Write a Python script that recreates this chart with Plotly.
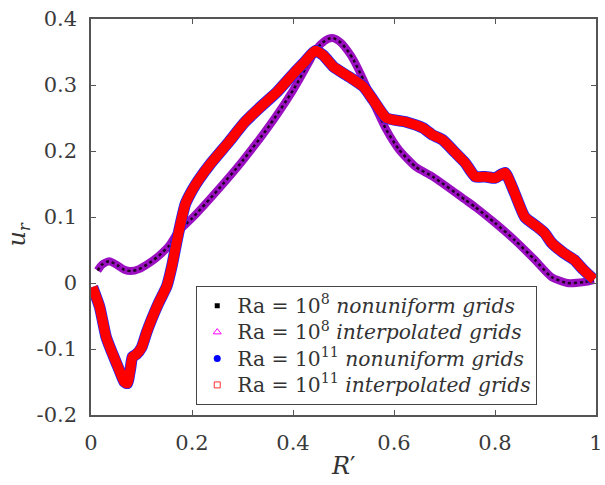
import plotly.graph_objects as go

# Radial velocity profile u_r along R' for two Rayleigh numbers
r_1e8 = [0.013, 0.022, 0.036, 0.052, 0.066, 0.079, 0.095, 0.115, 0.134, 0.154,
         0.173, 0.200, 0.250, 0.300, 0.350, 0.400, 0.432, 0.440, 0.455, 0.470,
         0.480, 0.495, 0.510, 0.520, 0.540, 0.560, 0.585, 0.610, 0.643, 0.677,
         0.741, 0.761, 0.800, 0.839, 0.879, 0.912, 0.943, 0.977, 0.996]
u_1e8 = [0.019, 0.028, 0.033, 0.027, 0.020, 0.018, 0.021, 0.030, 0.041, 0.056,
         0.078, 0.098, 0.140, 0.185, 0.235, 0.292, 0.335, 0.347, 0.362, 0.370,
         0.371, 0.364, 0.350, 0.338, 0.307, 0.272, 0.232, 0.202, 0.176, 0.161,
         0.126, 0.115, 0.091, 0.065, 0.035, 0.009, 0.000, 0.0015, 0.0045]

r_1e11 = [0.003, 0.017, 0.030, 0.042, 0.056, 0.066, 0.072, 0.078, 0.082, 0.090,
          0.100, 0.110, 0.120, 0.134, 0.150, 0.160, 0.173, 0.187, 0.200, 0.213,
          0.238, 0.271, 0.305, 0.336, 0.369, 0.402, 0.422, 0.444, 0.460, 0.481,
          0.512, 0.540, 0.559, 0.585, 0.624, 0.657, 0.677, 0.696, 0.722, 0.741,
          0.761, 0.781, 0.800, 0.820, 0.839, 0.859, 0.884, 0.898, 0.912, 0.937,
          0.957, 0.975, 0.996]
u_1e11 = [-0.006, -0.036, -0.082, -0.106, -0.132, -0.150, -0.152, -0.130, -0.112, -0.108,
          -0.098, -0.075, -0.055, -0.030, -0.005, 0.025, 0.075, 0.120, 0.140, 0.156,
          0.182, 0.212, 0.244, 0.267, 0.290, 0.318, 0.334, 0.352, 0.345, 0.327,
          0.312, 0.297, 0.277, 0.250, 0.244, 0.235, 0.224, 0.217, 0.197, 0.182,
          0.161, 0.161, 0.159, 0.167, 0.136, 0.100, 0.085, 0.076, 0.061, 0.045,
          0.035, 0.020, 0.005]

x_ticks = [0, 0.2, 0.4, 0.6, 0.8, 1]
x_labels = ["0", "0.2", "0.4", "0.6", "0.8", "1"]
y_ticks = [-0.2, -0.1, 0, 0.1, 0.2, 0.3, 0.4]
y_labels = ["-0.2", "-0.1", "0", "0.1", "0.2", "0.3", "0.4"]

legend_names = [
    "Ra = 10<sup>8</sup> <i>nonuniform grids</i>",
    "Ra = 10<sup>8</sup> <i>interpolated grids</i>",
    "Ra = 10<sup>11</sup> <i>nonuniform grids</i>",
    "Ra = 10<sup>11</sup> <i>interpolated grids</i>",
]

SERIF = "DejaVu Serif"
AXIS_COLOR = "#555555"

fig = go.Figure()

# Ra = 1e8: nonuniform (black) under interpolated (magenta)
fig.add_trace(go.Scatter(x=r_1e8, y=u_1e8, mode="lines",
                         line=dict(color="#9a10c0", width=8, shape="spline", smoothing=0.6),
                         showlegend=False, hoverinfo="skip"))
fig.add_trace(go.Scatter(x=r_1e8, y=u_1e8, mode="lines",
                         line=dict(color="#200020", width=2.5, dash="dot", shape="spline", smoothing=0.6),
                         showlegend=False, hoverinfo="skip"))

# Ra = 1e11: nonuniform (blue) under interpolated (red)
fig.add_trace(go.Scatter(x=r_1e11, y=u_1e11, mode="lines",
                         line=dict(color="#2020ff", width=11.5, shape="spline", smoothing=0.5),
                         showlegend=False, hoverinfo="skip"))
fig.add_trace(go.Scatter(x=r_1e11, y=u_1e11, mode="lines",
                         line=dict(color="#ff0000", width=10, shape="spline", smoothing=0.5),
                         showlegend=False, hoverinfo="skip"))

# Legend entries
legend_markers = [
    dict(symbol="square", size=5, color="black"),
    dict(symbol="triangle-up-open", size=7, color="#ff00ff", line=dict(width=1)),
    dict(symbol="circle", size=7, color="#0000ff"),
    dict(symbol="square-open", size=6, color="#ff3030", line=dict(width=1)),
]
for name, mk in zip(legend_names, legend_markers):
    fig.add_trace(go.Scatter(x=[None], y=[None], mode="markers", marker=mk,
                             name='<span style="font-size:20.3px">' + name + "</span>"))

axis_common = dict(
    showgrid=False, zeroline=False, showline=True, mirror="ticks",
    linecolor=AXIS_COLOR, linewidth=1.5, ticks="inside", ticklen=5,
    tickcolor=AXIS_COLOR, tickwidth=1, ticklabeloverflow="allow",
    tickfont=dict(family=SERIF, size=21, color="#3a3a3a"),
)

fig.update_layout(
    width=605, height=485,
    margin=dict(l=91, r=2, t=19, b=70),
    paper_bgcolor="white", plot_bgcolor="white",
    xaxis=dict(range=[0, 1], tickvals=x_ticks, ticktext=x_labels,
               ticklabelstandoff=8, **axis_common),
    yaxis=dict(range=[-0.2, 0.4], tickvals=y_ticks, ticktext=y_labels,
               ticklabelstandoff=8, **axis_common),
    legend=dict(x=0.208, y=0.325, xanchor="left", yanchor="top",
                bgcolor="white", bordercolor="#444444", borderwidth=1.2,
                font=dict(family=SERIF, size=18, color="#333333"),
                itemwidth=30, tracegroupgap=0),
    annotations=[
        dict(text="<i>u</i><sub><i>r</i></sub>", xref="paper", yref="paper",
             x=-0.143, y=0.455, xanchor="center", yanchor="middle",
             textangle=-90, showarrow=False,
             font=dict(family=SERIF, size=24, color="#333333")),
        dict(text="<i>R</i>\u2032", xref="paper", yref="paper",
             x=0.5, y=-0.128, xanchor="center", yanchor="middle",
             showarrow=False, font=dict(family=SERIF, size=24, color="#333333")),
    ],
)

fig.write_html("out.html")
